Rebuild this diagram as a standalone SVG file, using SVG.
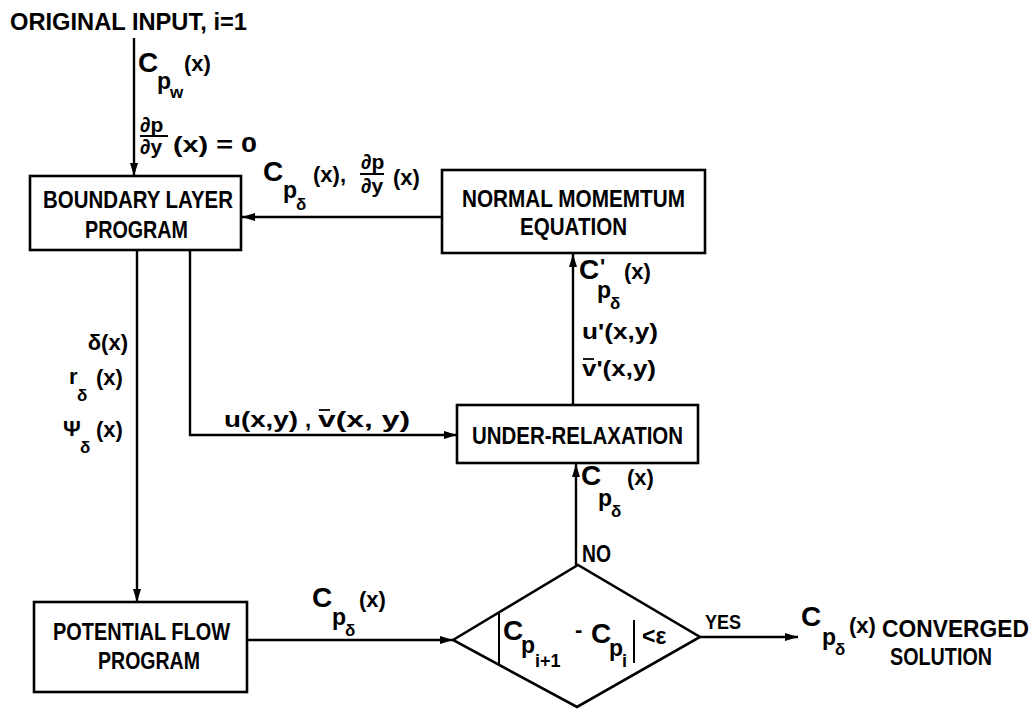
<svg xmlns="http://www.w3.org/2000/svg" width="1035" height="709" viewBox="0 0 1035 709">
<defs>
<style>
text{font-family:"Liberation Sans",Arial,sans-serif;font-weight:bold;fill:#000}
.box{fill:#fff;stroke:#000;stroke-width:2.6}
.con{fill:none;stroke:#000;stroke-width:2.4}
.bar{stroke:#000;stroke-width:2}
.t{font-size:23px}
.C{font-size:28px}
.lb{font-size:22px}
.sb{font-size:23px}
.ss{font-size:17px}
.fr{font-size:21px}
</style>
<marker id="ah" markerUnits="userSpaceOnUse" markerWidth="14" markerHeight="10" refX="13" refY="5" orient="auto">
<path d="M0,1 L13,5 L0,9 Z" fill="#000"/>
</marker>
</defs>
<rect width="1035" height="709" fill="#fff"/>

<text x="10" y="30" font-size="23" textLength="237" lengthAdjust="spacingAndGlyphs">ORIGINAL INPUT, i=1</text>

<g id="connectors">
<line class="con" x1="134" y1="38" x2="134" y2="176" marker-end="url(#ah)"/>
<line class="con" x1="442" y1="217" x2="242" y2="217" marker-end="url(#ah)"/>
<line class="con" x1="573" y1="405" x2="573" y2="254" marker-end="url(#ah)"/>
<polyline class="con" points="190,250 190,435 457,435" marker-end="url(#ah)"/>
<line class="con" x1="137" y1="250" x2="137" y2="602" marker-end="url(#ah)"/>
<line class="con" x1="247" y1="640" x2="453" y2="640" marker-end="url(#ah)"/>
<line class="con" x1="576" y1="565" x2="576" y2="464" marker-end="url(#ah)"/>
<line class="con" x1="700" y1="637" x2="798" y2="637" marker-end="url(#ah)"/>
</g>

<g id="labels">
<!-- input labels -->
<text><tspan class="C" x="138" y="72">C</tspan><tspan class="sb" x="157" y="89">p</tspan><tspan class="ss" x="170" y="98">w</tspan><tspan class="lb" x="184" y="71">(x)</tspan></text>
<text class="fr" x="140" y="132">∂p</text>
<line class="bar" x1="140" y1="136" x2="168" y2="136"/>
<text class="fr" x="140" y="154">∂y</text>
<text class="lb" x="173" y="152" textLength="84" lengthAdjust="spacingAndGlyphs">(x) = 0</text>

<!-- NM to BL label -->
<text><tspan class="C" x="263" y="181">C</tspan><tspan class="sb" x="283" y="198">p</tspan><tspan class="ss" x="296" y="210">δ</tspan><tspan class="lb" x="313" y="182">(x),</tspan></text>
<text class="fr" x="361" y="169">∂p</text>
<line class="bar" x1="360" y1="174" x2="384" y2="174"/>
<text class="fr" x="361" y="193">∂y</text>
<text class="lb" x="393" y="185">(x)</text>

<!-- UR to NM labels -->
<text><tspan class="C" x="579" y="279">C</tspan><tspan class="lb" x="600" y="274">'</tspan><tspan class="sb" x="597" y="298">p</tspan><tspan class="ss" x="610" y="309">δ</tspan><tspan class="lb" x="624" y="279">(x)</tspan></text>
<text class="lb" x="582" y="339" textLength="76" lengthAdjust="spacingAndGlyphs">u'(x,y)</text>
<text class="lb" x="582" y="376" textLength="74" lengthAdjust="spacingAndGlyphs">v'(x,y)</text>
<line x1="583" y1="359" x2="594" y2="359" stroke="#000" stroke-width="1.8"/>

<!-- BL to UR label -->
<text class="lb" x="224" y="427" textLength="74" lengthAdjust="spacingAndGlyphs">u(x,y)</text>
<text class="lb" x="305" y="427">,</text>
<text class="lb" x="318" y="427" textLength="92" lengthAdjust="spacingAndGlyphs">v(x, y)</text>
<line x1="319" y1="410" x2="330" y2="410" stroke="#000" stroke-width="1.8"/>

<!-- BL to PF labels -->
<text class="lb" x="128" y="350" text-anchor="end">δ(x)</text>
<text><tspan class="lb" x="69" y="384">r</tspan><tspan class="ss" x="77" y="401">δ</tspan><tspan class="lb" x="96" y="385">(x)</tspan></text>
<text><tspan class="lb" x="63" y="436">Ψ</tspan><tspan class="ss" x="80" y="453">δ</tspan><tspan class="lb" x="96" y="437">(x)</tspan></text>

<!-- PF to diamond label -->
<text><tspan class="C" x="312" y="607">C</tspan><tspan class="sb" x="332" y="625">p</tspan><tspan class="ss" x="345" y="636">δ</tspan><tspan class="lb" x="359" y="607">(x)</tspan></text>

<!-- diamond to UR label -->
<text><tspan class="C" x="581" y="485">C</tspan><tspan class="sb" x="598" y="506">p</tspan><tspan class="ss" x="611" y="517">δ</tspan><tspan class="lb" x="627" y="485">(x)</tspan></text>
<text x="582" y="562" font-size="23" textLength="29" lengthAdjust="spacingAndGlyphs">NO</text>

<!-- yes output -->
<text x="705" y="629" font-size="20" textLength="36" lengthAdjust="spacingAndGlyphs">YES</text>
<text><tspan class="C" x="801" y="626">C</tspan><tspan class="sb" x="822" y="645">p</tspan><tspan class="ss" x="835" y="655">δ</tspan><tspan class="lb" x="849" y="633">(x)</tspan></text>
<text class="t" x="882" y="637" textLength="147" lengthAdjust="spacingAndGlyphs">CONVERGED</text>
<text class="t" x="890" y="665" textLength="102" lengthAdjust="spacingAndGlyphs">SOLUTION</text>
</g>

<g id="boundary-layer">
<rect class="box" x="30" y="176" width="211" height="74"/>
<text class="t" x="43" y="208" textLength="190" lengthAdjust="spacingAndGlyphs">BOUNDARY LAYER</text>
<text class="t" x="85" y="238" textLength="103" lengthAdjust="spacingAndGlyphs">PROGRAM</text>
</g>

<g id="normal-momentum">
<rect class="box" x="442" y="170" width="263" height="83"/>
<text class="t" x="462" y="207" textLength="223" lengthAdjust="spacingAndGlyphs">NORMAL MOMEMTUM</text>
<text class="t" x="520" y="235" textLength="107" lengthAdjust="spacingAndGlyphs">EQUATION</text>
</g>

<g id="under-relaxation">
<rect class="box" x="457" y="405" width="241" height="58"/>
<text class="t" x="472" y="444" textLength="211" lengthAdjust="spacingAndGlyphs">UNDER-RELAXATION</text>
</g>

<g id="potential-flow">
<rect class="box" x="34" y="602" width="213" height="90"/>
<text class="t" x="53" y="640" textLength="177" lengthAdjust="spacingAndGlyphs">POTENTIAL FLOW</text>
<text class="t" x="98" y="669" textLength="102" lengthAdjust="spacingAndGlyphs">PROGRAM</text>
</g>

<g id="convergence-test">
<polygon class="box" points="453,640 578,565 700,637 577,707"/>
<line class="bar" x1="499" y1="613" x2="499" y2="665"/>
<line class="bar" x1="634" y1="620" x2="634" y2="663"/>
<text><tspan class="C" x="503" y="640">C</tspan><tspan class="sb" x="521" y="653">p</tspan><tspan x="535" y="667" font-size="18">i+1</tspan></text>
<text class="lb" x="575" y="637">-</text>
<text><tspan class="C" x="591" y="643">C</tspan><tspan class="sb" x="609" y="656">p</tspan><tspan x="622" y="667" font-size="18">i</tspan></text>
<text x="642" y="644" font-size="23">&lt;ε</text>
</g>
</svg>
